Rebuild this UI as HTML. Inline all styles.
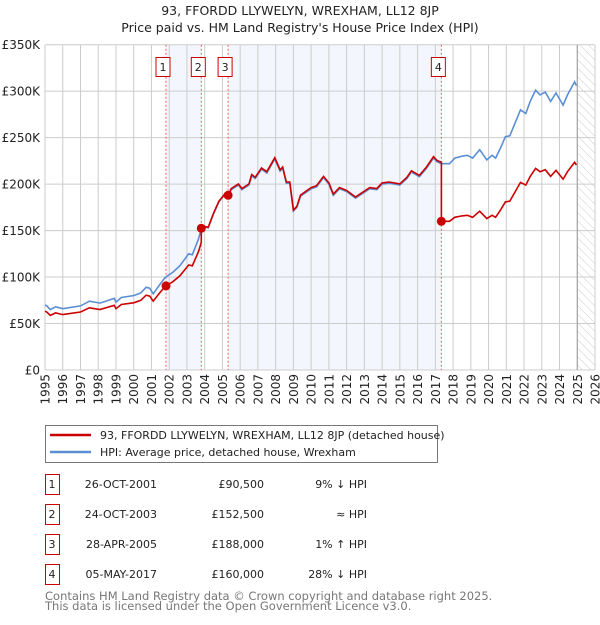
<!DOCTYPE html>
<html><head><meta charset="utf-8"><style>
body{margin:0;background:#fff;font-family:"Liberation Sans","DejaVu Sans",sans-serif;}
svg text{font-family:"DejaVu Sans","Liberation Sans",sans-serif;}
</style></head><body>
<svg id="chart" width="600" height="620" xmlns="http://www.w3.org/2000/svg">
<defs><pattern id="hatch" width="6" height="6" patternUnits="userSpaceOnUse" patternTransform="rotate(-45)"><line x1="0" y1="0" x2="0" y2="6" stroke="#ccc" stroke-width="1"/></pattern></defs>
<text x="300" y="15" text-anchor="middle" font-size="12.5" fill="#222">93, FFORDD LLYWELYN, WREXHAM, LL12 8JP</text>
<text x="300" y="32" text-anchor="middle" font-size="12.5" fill="#222">Price paid vs. HM Land Registry's House Price Index (HPI)</text>
<g id="plot"></g>
<g>
<rect x="45.5" y="425.5" width="392" height="37" fill="#fff" stroke="#777"/>
<line x1="50" y1="435" x2="91" y2="435" stroke="#cc0000" stroke-width="2.5"/>
<text x="100" y="439" font-size="11" fill="#222">93, FFORDD LLYWELYN, WREXHAM, LL12 8JP (detached house)</text>
<line x1="50" y1="452" x2="91" y2="452" stroke="#5b8fd4" stroke-width="2.5"/>
<text x="100" y="456" font-size="11" fill="#222">HPI: Average price, detached house, Wrexham</text>
</g>
<g id="table"></g>
<text x="45" y="600" font-size="11.5" fill="#777">Contains HM Land Registry data © Crown copyright and database right 2025.</text>
<text x="45" y="610" font-size="11.5" fill="#777">This data is licensed under the Open Government Licence v3.0.</text>
</svg>
<script>
const hpiDates=[1995.0,1995.1,1995.3,1995.6,1996.0,1997.0,1997.5,1998.1,1998.9,1999.0,1999.3,2000.0,2000.4,2000.7,2000.9,2001.1,2001.4,2001.77,2002.2,2002.6,2003.1,2003.3,2003.65,2003.81,2003.95,2004.2,2004.5,2004.8,2005.1,2005.3,2005.5,2005.9,2006.1,2006.5,2006.65,2006.85,2007.2,2007.5,2007.95,2008.25,2008.4,2008.6,2008.8,2009.0,2009.2,2009.4,2010.0,2010.3,2010.7,2011.0,2011.25,2011.6,2012.0,2012.5,2012.9,2013.3,2013.7,2014.0,2014.4,2015.0,2015.4,2015.65,2016.1,2016.5,2016.9,2017.1,2017.34,2017.8,2018.1,2018.5,2018.8,2019.1,2019.5,2019.9,2020.2,2020.4,2020.7,2020.95,2021.2,2021.8,2022.1,2022.35,2022.65,2022.9,2023.2,2023.5,2023.8,2024.2,2024.45,2024.85,2024.95];
const hpiValues=[70,69,65,68,66,69,74,72,77,73,78,80,83,89,88,82,90,99.5,105,112,125,124,141,152,154,153,168,181,188,186,194,199,194,199,209,206,216,212,227,214,217,201,201,171,175,187,195,197,207,200,188,195,192,185,190,195,194,200,201,199,206,213,208,217,228,224,222,222,228,230,231,228,237,226,231,228,240,251,252,280,276,289,301,296,299,289,298,285,296,310,306];
const saleLabels=["1","2","3","4"];
const saleDates=[2001.82,2003.81,2005.32,2017.34];
const salePrices=[90500,152500,188000,160000];
const saleDateText=["26-OCT-2001","24-OCT-2003","28-APR-2005","05-MAY-2017"];
const salePriceText=["£90,500","£152,500","£188,000","£160,000"];
const saleHpiText=["9% ↓ HPI","≈ HPI","1% ↑ HPI","28% ↓ HPI"];
const yTicks=[0,50,100,150,200,250,300,350];
const yTickLabels=["£0","£50K","£100K","£150K","£200K","£250K","£300K","£350K"];
const xYears=[];for(let y=1995;y<=2026;y++)xYears.push(y);

const NS="http://www.w3.org/2000/svg";
const X0=45,X1=595,Y0=370,Y1=44.7;
const xs=t=>X0+(t-1995)*(X1-X0)/31;
const ys=v=>Y0-v*(Y0-Y1)/350;
function mk(tag,attrs,parent){const e=document.createElementNS(NS,tag);for(const k in attrs)e.setAttribute(k,attrs[k]);parent.appendChild(e);return e;}
function hpiAt(t){for(let i=1;i<hpiDates.length;i++){if(t<=hpiDates[i]){const a=hpiDates[i-1],b=hpiDates[i];return hpiValues[i-1]+(hpiValues[i]-hpiValues[i-1])*(t-a)/(b-a);}}return hpiValues[hpiValues.length-1];}
const g=document.getElementById('plot');
[[0,1],[2,3]].forEach(p=>{
 const r=mk('rect',{x:xs(saleDates[p[0]]),y:Y1,width:xs(saleDates[p[1]])-xs(saleDates[p[0]]),height:Y0-Y1,fill:'#f3f6fd'},g);
 
 
});
const hr=mk('rect',{x:xs(2025),y:Y1,width:X1-xs(2025),height:Y0-Y1,fill:'url(#hatch)'},g);


xYears.forEach(y=>{
 const l=mk('line',{x1:xs(y),x2:xs(y),y1:Y1,y2:Y0,stroke:'#ccc','stroke-width':1},g);
 
 
 const t=mk('text',{x:0,y:0,transform:`translate(${xs(y)+4.5},374) rotate(-90)`,'text-anchor':'end','font-size':12,fill:'#222'},g);
 t.textContent=y;
 
 
});
yTicks.forEach((v,i)=>{
 const l=mk('line',{x1:X0,x2:X1,y1:ys(v),y2:ys(v),stroke:'#ccc','stroke-width':1},g);
 
 
 const t=mk('text',{x:40,y:ys(v)+4.5,'text-anchor':'end','font-size':12,fill:'#222'},g);
 t.textContent=yTickLabels[i];
 
 
});
const vl=mk('line',{x1:xs(2025),x2:xs(2025),y1:Y1,y2:Y0,stroke:'#999','stroke-width':1},g);


saleDates.forEach((d,i)=>{
 const l=mk('line',{x1:xs(d),x2:xs(d),y1:Y1,y2:Y0,stroke:'#f06060','stroke-width':1,'stroke-dasharray':'2,2'},g);
 
 
 const r=mk('rect',{x:xs(d)-10,y:57.5,width:14,height:19,fill:'#fff',stroke:'#cc0000'},g);
 
 
 const t=mk('text',{x:xs(d)-3,y:71,'text-anchor':'middle','font-size':11,fill:'#222'},g);
 t.textContent=saleLabels[i];
 
 
});
let pts=hpiDates.map((t,i)=>xs(t).toFixed(1)+','+ys(hpiValues[i]).toFixed(1));
const hl=mk('polyline',{points:pts.join(' '),fill:'none',stroke:'#5b8fd4','stroke-width':1.6},g);


const factors=saleDates.map((d,i)=>salePrices[i]/1000/hpiAt(d));
const times=[...new Set(hpiDates.concat(saleDates))].sort((a,b)=>a-b);
let rp=[];
times.forEach(t=>{
 let k=0;for(let j=0;j<saleDates.length;j++)if(t>=saleDates[j])k=j;
 if(saleDates.includes(t)&&saleDates.indexOf(t)>0){const j=saleDates.indexOf(t);rp.push(xs(t).toFixed(1)+','+ys(hpiAt(t)*factors[j-1]).toFixed(1));}
 rp.push(xs(t).toFixed(1)+','+ys(hpiAt(t)*factors[k]).toFixed(1));
});
const pl=mk('polyline',{points:rp.join(' '),fill:'none',stroke:'#cc0000','stroke-width':1.6},g);


saleDates.forEach((d,i)=>{
 const c=mk('circle',{cx:xs(d),cy:ys(salePrices[i]/1000),r:4.5,fill:'#cc0000'},g);
 
 
});
const tb=document.getElementById('table');
saleDates.forEach((d,i)=>{
 const cy=483+i*30;
 const r=mk('rect',{x:45.5,y:cy-8.5,width:14,height:20,fill:'#fff',stroke:'#cc0000'},tb);
 
 
 const cells=[[52,'middle',saleLabels[i],'table-sale-number'],[157,'end',saleDateText[i],'table-sale-date'],[264,'end',salePriceText[i],'table-sale-price'],[367,'end',saleHpiText[i],'table-sale-hpi']];
 cells.forEach(c=>{
  const t=mk('text',{x:c[0],y:cy+5,'text-anchor':c[1],'font-size':11,fill:'#222'},tb);
  t.textContent=c[2];
  
  
 });
});
</script>
</body></html>
